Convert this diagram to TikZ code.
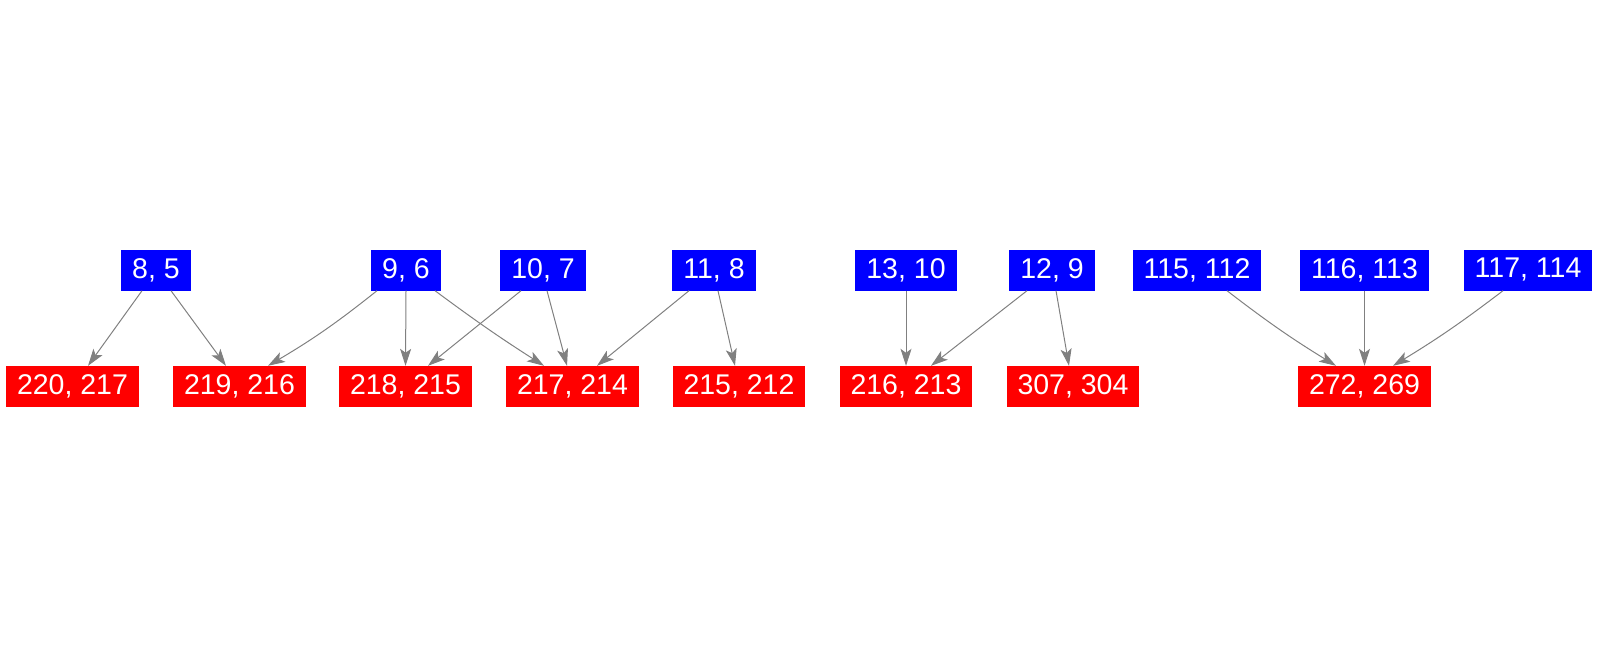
\documentclass[tikz,border=0pt]{standalone}
\usepackage{fontspec}
\setmainfont{Liberation Sans}
\usetikzlibrary{arrows.meta}

\begin{document}
\begin{tikzpicture}[x=1pt, y=-1pt,
	src/.style={fill=blue, text=white, rectangle, inner xsep=11pt, inner ysep=0pt, minimum height=41pt, font=\fontsize{28.5}{30}\selectfont},
	dst/.style={src, fill=red},
	link/.style={draw=gray, line width=1pt, -{Stealth[length=17pt, width=11pt, inset=4pt]}}]
{
	\useasboundingbox (0,0) rectangle (1602,656);
	% top row
	\node[src] (B85) at (156,270) {8, 5};
	\node[src] (B96) at (406,270) {9, 6};
	\node[src] (B107) at (543,270) {10, 7};
	\node[src] (B118) at (714,270) {11, 8};
	\node[src] (B1310) at (906,270) {13, 10};
	\node[src] (B129) at (1052,270) {12, 9};
	\node[src] (B115) at (1197,270) {115, 112};
	\node[src] (B116) at (1364.5,270) {116, 113};
	\node[src] (B117) at (1528,270) {117, 114};
	% bottom row
	\node[dst] (R220) at (72.5,386.5) {220, 217};
	\node[dst] (R219) at (239.5,386.5) {219, 216};
	\node[dst] (R218) at (405.5,386.5) {218, 215};
	\node[dst] (R217) at (572.5,386.5) {217, 214};
	\node[dst] (R215) at (739,386.5) {215, 212};
	\node[dst] (R216) at (906,386.5) {216, 213};
	\node[dst] (R307) at (1073,386.5) {307, 304};
	\node[dst] (R272) at (1364.5,386.5) {272, 269};
	% edges
	\draw[link] ([xshift=-14pt]B85.south) -- ([xshift=15.5pt]R220.north);
	\draw[link] ([xshift=15pt]B85.south) -- ([xshift=-13.5pt]R219.north);
	\draw[link] ([xshift=-29pt]B96.south) to[bend left=4] ([xshift=28.5pt]R219.north);
	\draw[link] (B96.south) -- (R218.north);
	\draw[link] ([xshift=29pt]B96.south) to[bend right=2] ([xshift=-28.5pt]R217.north);
	\draw[link] ([xshift=-22pt]B107.south) -- ([xshift=22.5pt]R218.north);
	\draw[link] ([xshift=4pt]B107.south) -- ([xshift=-5.5pt]R217.north);
	\draw[link] ([xshift=-25pt]B118.south) -- ([xshift=24.5pt]R217.north);
	\draw[link] ([xshift=4pt]B118.south) -- ([xshift=-4pt]R215.north);
	\draw[link] (B1310.south) -- (R216.north);
	\draw[link] ([xshift=-25pt]B129.south) -- ([xshift=25pt]R216.north);
	\draw[link] ([xshift=4pt]B129.south) -- ([xshift=-4pt]R307.north);
	\draw[link] ([xshift=30pt]B115.south) to[bend right=3] ([xshift=-28.5pt]R272.north);
	\draw[link] (B116.south) -- (R272.north);
	\draw[link] ([xshift=-25pt]B117.south) to[bend left=3] ([xshift=28.5pt]R272.north);
}
\end{tikzpicture}
\end{document}
